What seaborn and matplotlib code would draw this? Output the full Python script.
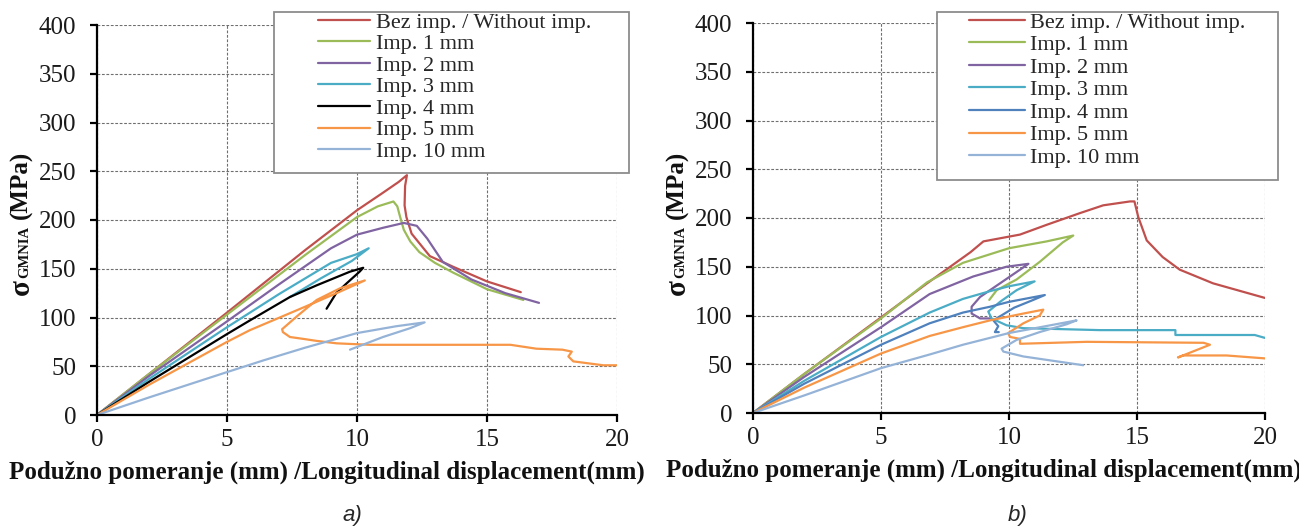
import numpy as np
import pandas as pd
import matplotlib
matplotlib.use("Agg")
import matplotlib.pyplot as plt
from matplotlib.patches import Rectangle
import seaborn as sns

# ---------------- data: panel a) ----------------
labels = ["Bez imp. / Without imp.", "Imp. 1 mm", "Imp. 2 mm", "Imp. 3 mm",
          "Imp. 4 mm", "Imp. 5 mm", "Imp. 10 mm"]

a_bez_x = [0, 2, 5, 8, 10, 11, 11.6, 11.92, 11.85, 11.83, 11.9, 12.1, 12.8, 13.7, 15.0, 16.3]
a_bez_y = [0, 42, 105, 169, 210, 228, 239, 246, 235, 215, 203, 186, 163, 152, 137, 126]
a_i1_x = [0, 2, 5, 8, 10, 10.8, 11.4, 11.55, 11.65, 11.8, 12.05, 12.4, 13.0, 13.7, 15.0, 16.4]
a_i1_y = [0, 42, 103, 164, 203, 214, 219, 214, 204, 190, 178, 167, 156, 146, 129, 118]
a_i2_x = [0, 2, 5, 7, 9, 10, 11, 11.8, 12.3, 12.7, 13.3, 14.4, 15.7, 17.0]
a_i2_y = [0, 40, 96, 134, 171, 185, 192, 197, 194, 181, 157, 139, 125, 115]
a_i3_x = [0, 2, 5, 7, 9, 10.0, 10.45, 9.8, 8.6, 7.42]
a_i3_y = [0, 37, 90, 124, 156, 165, 171, 158, 140, 121]
a_i4_x = [0, 2, 5, 5.88, 7.42, 8.45, 9.73, 10.24, 10.1, 9.6, 9.2, 8.83]
a_i4_y = [0, 34, 83, 97, 121, 133, 147, 151, 147, 135, 125, 109]
a_i5_x = [0, 2, 5, 5.88, 8.0, 9.3, 10.3, 9.35, 8.45, 7.68, 7.12, 7.15, 7.42, 7.95, 8.45,
          9.22, 10.5, 15.0, 15.9, 16.9, 17.9, 18.26, 18.13, 18.32, 19.47, 20.0]
a_i5_y = [0, 31, 75, 87, 111, 126, 138, 130, 118, 101, 88, 85, 80, 78, 76,
          73.5, 72, 72, 72, 68, 67, 65, 60, 55, 51, 51]
a_i10_x = [0, 2, 5, 6.4, 8, 10, 11.5, 12.6, 12.04, 11.0, 9.73]
a_i10_y = [0, 18, 44, 56, 69, 84, 91, 95, 89, 80, 67]

# ---------------- data: panel b) ----------------
b_bez_x = [0, 2, 5, 6.8, 8.5, 9.0, 10.43, 11.47, 12.77, 13.68, 14.73, 14.9, 15.05, 15.38,
           16.0, 16.67, 17.97, 20.0]
b_bez_y = [0, 40, 98, 133, 165, 176, 183, 193, 205, 213, 217, 217, 201, 177, 160, 147, 133, 118]
b_i1_x = [0, 2, 5, 6.8, 8.2, 10.0, 11.47, 12.51, 12.1, 11.2, 10.3, 9.52, 9.23]
b_i1_y = [0, 40, 97, 134, 154, 169, 176, 182, 175, 155, 137, 126, 116]
b_i2_x = [0, 2, 5, 6.9, 8.6, 9.9, 10.76, 10.43, 9.65, 8.87, 8.54, 8.54, 8.87, 9.26]
b_i2_y = [0, 37, 88, 122, 140, 150, 153, 147, 133, 119, 109, 102, 97, 97]
b_i3_x = [0, 2, 5, 6.9, 8.2, 9.26, 10.0, 11.0, 10.3, 9.65, 9.19, 9.32, 9.9, 10.56, 13.55,
          16.5, 16.5, 19.6, 20.0]
b_i3_y = [0, 33, 78, 103, 117, 125, 130, 135, 126, 114, 104, 97, 90, 87, 85, 85, 80, 80, 77]
b_i4_x = [0, 2, 5, 6.9, 8.2, 9.26, 10.0, 11.4, 10.95, 10.2, 9.39, 9.58, 9.45, 9.6]
b_i4_y = [0, 30, 70, 92, 103, 109, 114, 121, 116, 108, 95, 89, 83, 83]
b_i5_x = [0, 2, 5, 6.9, 8.2, 9.26, 10.56, 11.34, 11.2, 10.56, 9.97, 10.04, 10.43, 10.43,
          13.03, 17.6, 17.85, 16.6, 16.8, 18.5, 20.0]
b_i5_y = [0, 26, 61, 79, 88, 95, 102, 106, 100, 92, 82, 78, 76, 71, 73, 72, 70, 57, 59, 59, 56]
b_i10_x = [0, 2, 5, 6.9, 8.2, 10.0, 12.64, 12.25, 11.2, 10.3, 9.71, 9.78, 10.56, 11.86, 12.9]
b_i10_y = [0, 18, 46, 60, 70, 82, 95, 91, 83, 75, 66, 63, 58, 53, 49]

x_ticks = [0, 5, 10, 15, 20]
y_ticks = [0, 50, 100, 150, 200, 250, 300, 350, 400]

colors_a = ["#C0504D", "#9BBB59", "#8064A2", "#4BACC6", "#000000", "#F79646", "#95B3D7"]
colors_b = ["#C0504D", "#9BBB59", "#8064A2", "#4BACC6", "#4F81BD", "#F79646", "#95B3D7"]

panel_a = [(a_bez_x, a_bez_y), (a_i1_x, a_i1_y), (a_i2_x, a_i2_y), (a_i3_x, a_i3_y),
           (a_i4_x, a_i4_y), (a_i5_x, a_i5_y), (a_i10_x, a_i10_y)]
panel_b = [(b_bez_x, b_bez_y), (b_i1_x, b_i1_y), (b_i2_x, b_i2_y), (b_i3_x, b_i3_y),
           (b_i4_x, b_i4_y), (b_i5_x, b_i5_y), (b_i10_x, b_i10_y)]

sns.set_theme(style="white")
plt.rcParams["font.family"] = ["Liberation Serif", "DejaVu Serif"]

W, H = 1299, 531
fig = plt.figure(figsize=(W / 100, H / 100), dpi=100)


def px_rect(x0, y0, x1, y1):
    return [x0 / W, 1 - y1 / H, (x1 - x0) / W, (y1 - y0) / H]


axes_px = [(97, 25, 617, 415), (753, 23, 1265, 413)]
legend_box = [(274, 12, 629, 173), (937, 12, 1278, 180)]
legend_anchor = [(318, 12), (969, 12)]
legend_hl = [2.35, 2.5]
legend_ls = [0.045, 0.09]
xlabel_pos = [0.442, 0.451]
ylabel_x = [21, 677]
captions = [("a)", 352), ("b)", 1018)]

for i, (panel, cols) in enumerate([(panel_a, colors_a), (panel_b, colors_b)]):
    ax = fig.add_axes(px_rect(*axes_px[i]))
    for (xs, ys), lab, c in zip(panel, labels, cols):
        df = pd.DataFrame({"x": xs, "y": ys})
        sns.lineplot(data=df, x="x", y="y", sort=False, estimator=None, color=c,
                     linewidth=1.6, ax=ax, label=lab, legend=False)
    ax.set_xlim(0, 20)
    ax.set_ylim(0, 400)
    ax.set_xticks(x_ticks)
    ax.set_yticks(y_ticks)
    ax.grid(True, color="#6f6f6f", linestyle=(0, (2.5, 1.5)), linewidth=0.8)
    for s in ["top", "right"]:
        ax.spines[s].set_visible(False)
    for s in ["left", "bottom"]:
        ax.spines[s].set_color("black")
        ax.spines[s].set_linewidth(1.6)
    ax.tick_params(axis="both", which="major", direction="out", length=5, width=1.6,
                   color="black", labelsize=18, left=True, bottom=True,
                   labelcolor="#1a1a1a")
    ax.tick_params(axis="y", pad=10)
    ax.tick_params(axis="x", pad=5)
    ax.set_xlabel("Podužno pomeranje (mm) /Longitudinal displacement(mm)",
                  fontsize=18, fontweight="bold", color="#111111")
    ax.xaxis.set_label_coords(xlabel_pos[i], -0.117)
    ax.set_ylabel("")

    # y label: sigma with GMNIA subscript and (MPa)
    yx = ylabel_x[i]
    fig.text(yx / W, 1 - 287 / H, "σ", rotation=90, fontsize=21, fontweight="bold",
             ha="center", va="center", color="#111111")
    fig.text((yx + 4) / W, 1 - 252 / H, "GMNIA", rotation=90, fontsize=10.5,
             fontweight="bold", ha="center", va="center", color="#111111")
    fig.text(yx / W, 1 - 185 / H, "(MPa)", rotation=90, fontsize=18, fontweight="bold",
             ha="center", va="center", color="#111111")

    # legend frame
    bx0, by0, bx1, by1 = legend_box[i]
    fig.patches.append(Rectangle((bx0 / W, 1 - by1 / H), (bx1 - bx0) / W, (by1 - by0) / H,
                                 transform=fig.transFigure, facecolor="white",
                                 edgecolor="#8c8c8c", linewidth=1.3, zorder=4))
    h, l = ax.get_legend_handles_labels()
    lx, ly = legend_anchor[i]
    leg = fig.legend(h, l, loc="upper left", bbox_to_anchor=(lx / W, 1 - ly / H),
                     bbox_transform=fig.transFigure, frameon=False, fontsize=16,
                     borderpad=0, borderaxespad=0, handlelength=legend_hl[i],
                     handletextpad=0.25, labelspacing=legend_ls[i])
    leg.set_zorder(6)

    cap, cx = captions[i]
    fig.text(cx / W, 1 - 515 / H, cap, fontsize=16, fontstyle="italic",
             family="Liberation Sans", ha="center", va="center")

fig.savefig("out.png", dpi=100)
